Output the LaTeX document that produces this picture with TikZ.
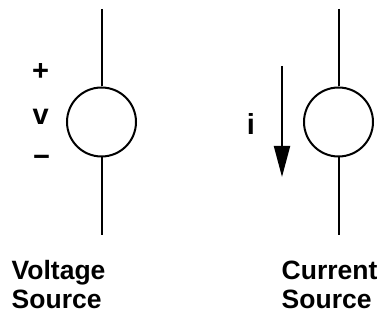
\documentclass[tikz,border=0pt]{standalone}
\usepackage{fontspec}
\setmainfont{Liberation Sans}
\usetikzlibrary{arrows.meta}
\begin{document}
\begin{tikzpicture}[x=1pt,y=-1pt,
  wire/.style={line width=2pt},
  src/.style={circle,draw,line width=2pt,minimum size=69pt,inner sep=0pt},
  lbl/.style={inner sep=0pt,font=\fontsize{29}{33}\bfseries\selectfont},
  captxt/.style={inner sep=0pt,anchor=base west,font=\fontsize{26.5}{30}\bfseries\selectfont}]
\useasboundingbox (0,0) rectangle (381,320);
% voltage source
\node[src] (vs) at (101.5,122) {};
\coordinate (vt) at (101.5,9);
\coordinate (vb) at (101.5,235);
\draw[wire] (vt) -- (vs.north);
\draw[wire] (vs.south) -- (vb);
\node[lbl] (plus) at (40.7,71.7) {+};
\node[lbl] (v) at (40.7,116.7) {v};
\node[lbl] (minus) at (41.5,161) {\textminus};
% current source
\node[src] (cs) at (338.5,122) {};
\coordinate (ct) at (338.5,9);
\coordinate (cb) at (338.5,235);
\draw[wire] (ct) -- (cs.north);
\draw[wire] (cs.south) -- (cb);
\coordinate (at) at (282,66);
\coordinate (ab) at (282,177);
\draw[wire,-{Triangle[length=31pt,width=16pt]}] (at) -- (ab);
\node[lbl] (i) at (251,124) {i};
% captions
\node[captxt] (c1) at (11.5,279.3) {Voltage};
\node[captxt] (c2) at (11.5,308.3) {Source};
\node[captxt] (c3) at (281.5,279.3) {Current};
\node[captxt] (c4) at (281.5,308.3) {Source};
\end{tikzpicture}
\end{document}
